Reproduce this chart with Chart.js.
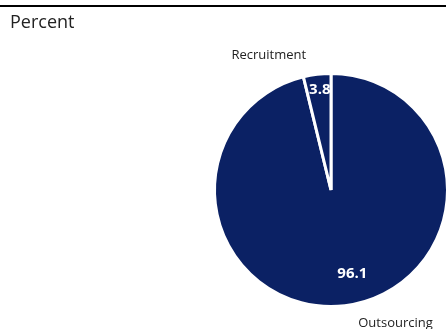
<!DOCTYPE html>
<html>
<head>
<meta charset="utf-8">
<script src="https://cdn.jsdelivr.net/npm/chart.js@4/dist/chart.umd.min.js"></script>
<style>
  html, body { margin: 0; padding: 0; background: #fff; overflow: hidden; }
  .wrap { position: relative; width: 446px; height: 329px; }
  .rule { position: absolute; left: 0; top: 5px; width: 446px; height: 2px; background: #000; }
  .unit { position: absolute; left: 10px; top: 9px; font: 18px "Open Sans", sans-serif; color: #222; }
  canvas { position: absolute; left: 0; top: 0; }
</style>
</head>
<body>
<div class="wrap">
  <canvas id="pie" width="452" height="329"></canvas>
  <div class="rule"></div>
  <div class="unit">Percent</div>
</div>
<script>
'use strict';

const categories = ['Outsourcing', 'Recruitment'];
const values = [96.1, 3.8];
const valueLabels = ['96.1', '3.8'];

const navy = '#0b2164';

// labels for each slice: value inside, name outside
const sliceLabels = {
    id: 'sliceLabels',
    afterDatasetsDraw(chart) {
        const ctx = chart.ctx;
        const arcs = chart.getDatasetMeta(0).data;
        // nudges in degrees off the slice middle
        const valueShift = [-7.5, 0.5];
        const valueRadius = [0.74, 0.87];
        const nameShift = [-19, -18];
        const nameRadius = 1.27;

        arcs.forEach((arc, i) => {
            const {x, y, startAngle, endAngle, outerRadius} = arc.getProps(['x', 'y', 'startAngle', 'endAngle', 'outerRadius'], true);
            const mid = (startAngle + endAngle) / 2;

            let a = mid + valueShift[i] * Math.PI / 180;
            let r = outerRadius * valueRadius[i];
            ctx.save();
            ctx.font = 'bold 15px "Open Sans", sans-serif';
            ctx.fillStyle = '#fff';
            ctx.textAlign = 'center';
            ctx.textBaseline = 'middle';
            ctx.fillText(valueLabels[i], x + Math.cos(a) * r, y + Math.sin(a) * r);

            a = mid + nameShift[i] * Math.PI / 180;
            r = outerRadius * nameRadius;
            ctx.font = '13px "Open Sans", sans-serif';
            ctx.fillStyle = '#222';
            ctx.fillText(categories[i], x + Math.cos(a) * r, y + Math.sin(a) * r);
            ctx.restore();
        });
    }
};

new Chart(document.getElementById('pie'), {
    type: 'pie',
    data: {
        labels: categories,
        datasets: [{
            data: values,
            backgroundColor: navy,
            borderColor: '#fff',
            borderWidth: 3,
            hoverOffset: 0
        }]
    },
    options: {
        responsive: false,
        animation: false,
        layout: {
            padding: {left: 213, right: 3, top: 72, bottom: 21}
        },
        plugins: {
            legend: {display: false},
            tooltip: {enabled: false}
        }
    },
    plugins: [sliceLabels]
});
</script>
</body>
</html>
